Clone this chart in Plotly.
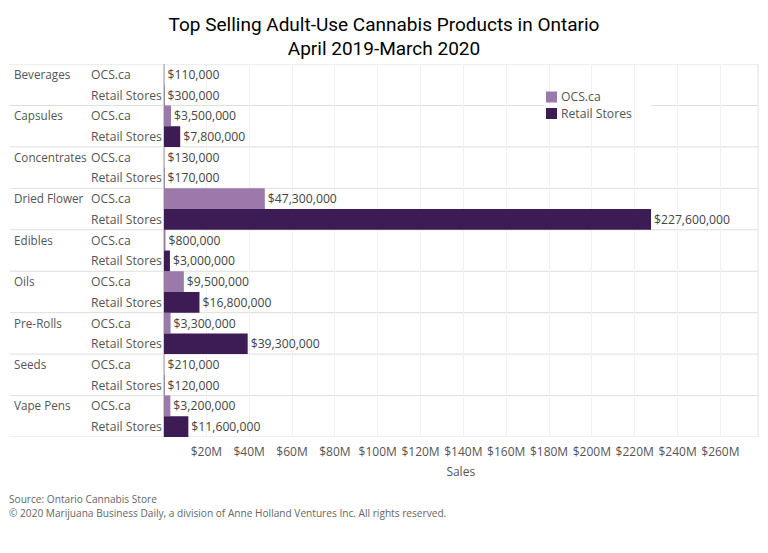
import plotly.graph_objects as go

products = ["Beverages", "Capsules", "Concentrates", "Dried Flower", "Edibles", "Oils", "Pre-Rolls", "Seeds", "Vape Pens"]
channels = ["OCS.ca", "Retail Stores"]
ocs_sales = [110000, 3500000, 130000, 47300000, 800000, 9500000, 3300000, 210000, 3200000]
retail_sales = [300000, 7800000, 170000, 227600000, 3000000, 16800000, 39300000, 120000, 11600000]
x_ticks = [20, 40, 60, 80, 100, 120, 140, 160, 180, 200, 220, 240, 260]
title_text = "Top Selling Adult-Use Cannabis Products in Ontario<br>April 2019-March 2020"
source_lines = ["Source: Ontario Cannabis Store",
                "© 2020 Marijuana Business Daily, a division of Anne Holland Ventures Inc. All rights reserved."]

PAGE = 8  # the page's body margin
W, H = 760, 545
L, R, T, B = 163.5, 758, 64, 437
OCS_C, RET_C = "#9b79aa", "#3d1b55"
FONT = "Open Sans"
TXT = "#555555"

fx = lambda px: (px - PAGE) / W
fy = lambda px: 1 - (px - PAGE) / H

fig = go.Figure()
n = len(products)
for j, (name, vals, col) in enumerate([(channels[0], ocs_sales, OCS_C), (channels[1], retail_sales, RET_C)]):
    fig.add_trace(go.Bar(
        name=name, orientation="h", x=vals, y=[2 * i + j for i in range(n)],
        width=1, marker=dict(color=col, line=dict(width=0)),
        texttemplate="$%{x:,.0f}", textposition="outside", cliponaxis=False,
        textfont=dict(family=FONT, size=12.2, color="#444444"),
        showlegend=False, hovertemplate=name + ": $%{x:,.0f}<extra></extra>"))

ann, shapes = [], []
for i, p in enumerate(products):
    ann.append(dict(text=p, xref="paper", yref="y", x=fx(12), y=2 * i, xanchor="left", yanchor="middle", yshift=0.5,
                    showarrow=False, font=dict(family=FONT, size=11.7, color=TXT)))
    for j, c in enumerate(channels):
        ann.append(dict(text=c, xref="paper", yref="y", x=fx(89), y=2 * i + j, xanchor="left", yanchor="middle",
                        showarrow=False, font=dict(family=FONT, size=12.2, color=TXT)))
    shapes.append(dict(type="line", xref="paper", yref="y", x0=fx(10), x1=fx(R), y0=2 * i - 0.5, y1=2 * i - 0.5,
                       line=dict(color="#dedede", width=1), layer="below"))
shapes.append(dict(type="line", xref="paper", yref="y", x0=fx(10), x1=fx(R), y0=2 * n - 0.5, y1=2 * n - 0.5,
                   line=dict(color="#dedede", width=1), layer="below"))
shapes.append(dict(type="line", xref="paper", yref="paper", x0=fx(R), x1=fx(R), y0=fy(T), y1=fy(B),
                   line=dict(color="#e2e2e2", width=1), layer="below"))
shapes.append(dict(type="line", xref="paper", yref="paper", x0=fx(L), x1=fx(L), y0=fy(T), y1=fy(B),
                   line=dict(color="#cccccc", width=1), layer="above"))

# legend panel
shapes.append(dict(type="rect", xref="paper", yref="paper", x0=fx(544), x1=fx(651), y0=fy(145), y1=fy(88),
                   fillcolor="white", line=dict(width=0), layer="below"))
for idx, (c, col) in enumerate(zip(channels, [OCS_C, RET_C])):
    yc = 97 + 16.5 * idx
    shapes.append(dict(type="rect", xref="paper", yref="paper", x0=fx(546), x1=fx(557), y0=fy(yc + 5.5), y1=fy(yc - 5.5),
                       fillcolor=col, line=dict(width=0)))
    ann.append(dict(text=c, xref="paper", yref="paper", x=fx(559), y=fy(yc), xanchor="left", yanchor="middle",
                    showarrow=False, font=dict(family=FONT, size=12.2, color=TXT)))

for k, line in enumerate(source_lines):
    ann.append(dict(text=line, xref="paper", yref="paper", x=fx(7), y=fy(498.5 + 14 * k), xanchor="left", yanchor="middle",
                    showarrow=False, font=dict(family=FONT, size=10.15, color="#666666")))

fig.update_layout(
    width=W, height=H, paper_bgcolor="white", plot_bgcolor="white", barmode="overlay",
    margin=dict(l=0, r=0, t=0, b=0), showlegend=False,
    title=dict(text=title_text, xref="paper", x=fx(384), xanchor="center", y=fy(30.5), yanchor="middle",
               font=dict(family="Roboto", size=19, color="#000000")),
    xaxis=dict(domain=[fx(L), fx(R)], range=[0, (R - L) / (651 - L) * 227.6e6],
               tickvals=[v * 1e6 for v in x_ticks], ticktext=[f"${v}M" for v in x_ticks],
               showgrid=True, gridcolor="#f1f1f1", gridwidth=1, zeroline=False, showline=False,
               ticks="outside", ticklen=4, tickcolor="rgba(0,0,0,0)",
               tickfont=dict(family=FONT, size=12, color=TXT),
               title=dict(text="Sales", font=dict(family=FONT, size=12, color=TXT), standoff=8)),
    yaxis=dict(domain=[fy(B), fy(T)], range=[2 * n - 0.5, -0.5], showticklabels=False, showgrid=False,
               zeroline=False, showline=False, ticks=""),
    annotations=ann, shapes=shapes,
)
fig.write_html("out.html")
